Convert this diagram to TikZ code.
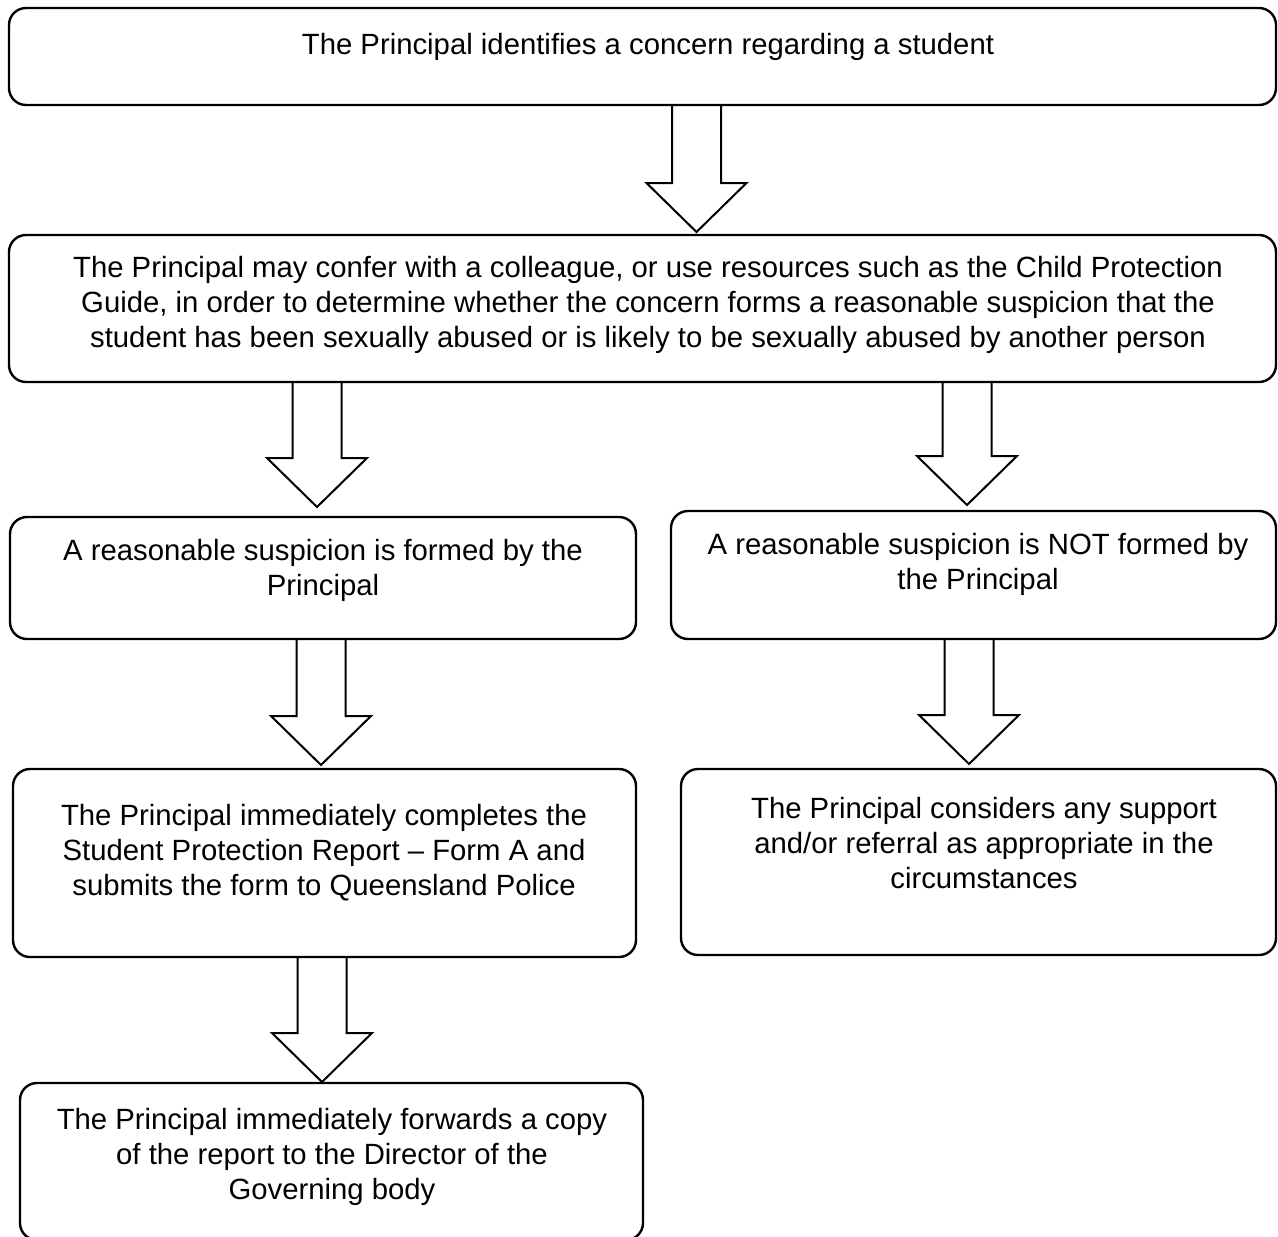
\documentclass[tikz,border=0pt]{standalone}
\usepackage{fontspec}
\setmainfont{Liberation Sans}
\usetikzlibrary{calc}
\tikzset{
  box/.style={draw=black, line width=2.4pt, rounded corners=17pt, fill=white,
    inner sep=0pt, outer sep=0pt, anchor=north west},
  txt/.style={align=center, inner sep=0pt, font=\fontsize{29.3}{35}\selectfont},
  blockarrow/.style={draw=black, line width=2pt, line join=miter}
}
% #1 source, #2 target, #3 x centre, #4 gap above target
\newcommand\barrow[4]{%
  \draw[blockarrow] let \p1=(#1.south), \p2=(#2.north) in
    (#3pt-24.5pt,\y1) -- (#3pt-24.5pt,\y2+#4pt+49pt) -- (#3pt-50pt,\y2+#4pt+49pt)
    -- (#3pt,\y2+#4pt) -- (#3pt+50pt,\y2+#4pt+49pt) -- (#3pt+24.5pt,\y2+#4pt+49pt)
    -- (#3pt+24.5pt,\y1);
}
\begin{document}
\begin{tikzpicture}[x=1pt,y=-1pt]
\useasboundingbox (0,0) rectangle (1278,1237);
\clip (0,0) rectangle (1278,1237);

\node[box, minimum width=1267pt, minimum height=97pt]  (b1) at (9,8) {};
\node[box, minimum width=1267pt, minimum height=147pt] (b2) at (9,235) {};
\node[box, minimum width=626pt,  minimum height=122pt] (b3) at (10,517) {};
\node[box, minimum width=605pt,  minimum height=128pt] (b4) at (671,511) {};
\node[box, minimum width=623pt,  minimum height=188pt] (b5) at (13,769) {};
\node[box, minimum width=595pt,  minimum height=186pt] (b6) at (681,769) {};
\node[box, minimum width=623pt,  minimum height=157pt] (b7) at (20,1083) {};

\node[txt] (t1) at (648,47) {The Principal identifies a concern regarding a student};
\node[txt] (t2) at (648,304.5) {The Principal may confer with a colleague, or use resources such as the Child Protection\\Guide, in order to determine whether the concern forms a reasonable suspicion that the\\student has been sexually abused or is likely to be sexually abused by another person};
\node[txt] (t3) at (323,570) {A reasonable suspicion is formed by the\\Principal};
\node[txt] (t4) at (978,564) {A reasonable suspicion is NOT formed by\\the Principal};
\node[txt] (t5) at (324,853) {The Principal immediately completes the\\Student Protection Report -- Form A and\\submits the form to Queensland Police};
\node[txt] (t6) at (984,843) {The Principal considers any support\\and/or referral as appropriate in the\\circumstances};
\node[txt] (t7) at (332,1157) {The Principal immediately forwards a copy\\of the report to the Director of the\\Governing body};

\barrow{b1}{b2}{696.5}{3}
\barrow{b2}{b3}{317}{10}
\barrow{b2}{b4}{967}{6}
\barrow{b3}{b5}{321}{4}
\barrow{b4}{b6}{969}{5}
\barrow{b5}{b7}{322}{1}
\end{tikzpicture}
\end{document}
